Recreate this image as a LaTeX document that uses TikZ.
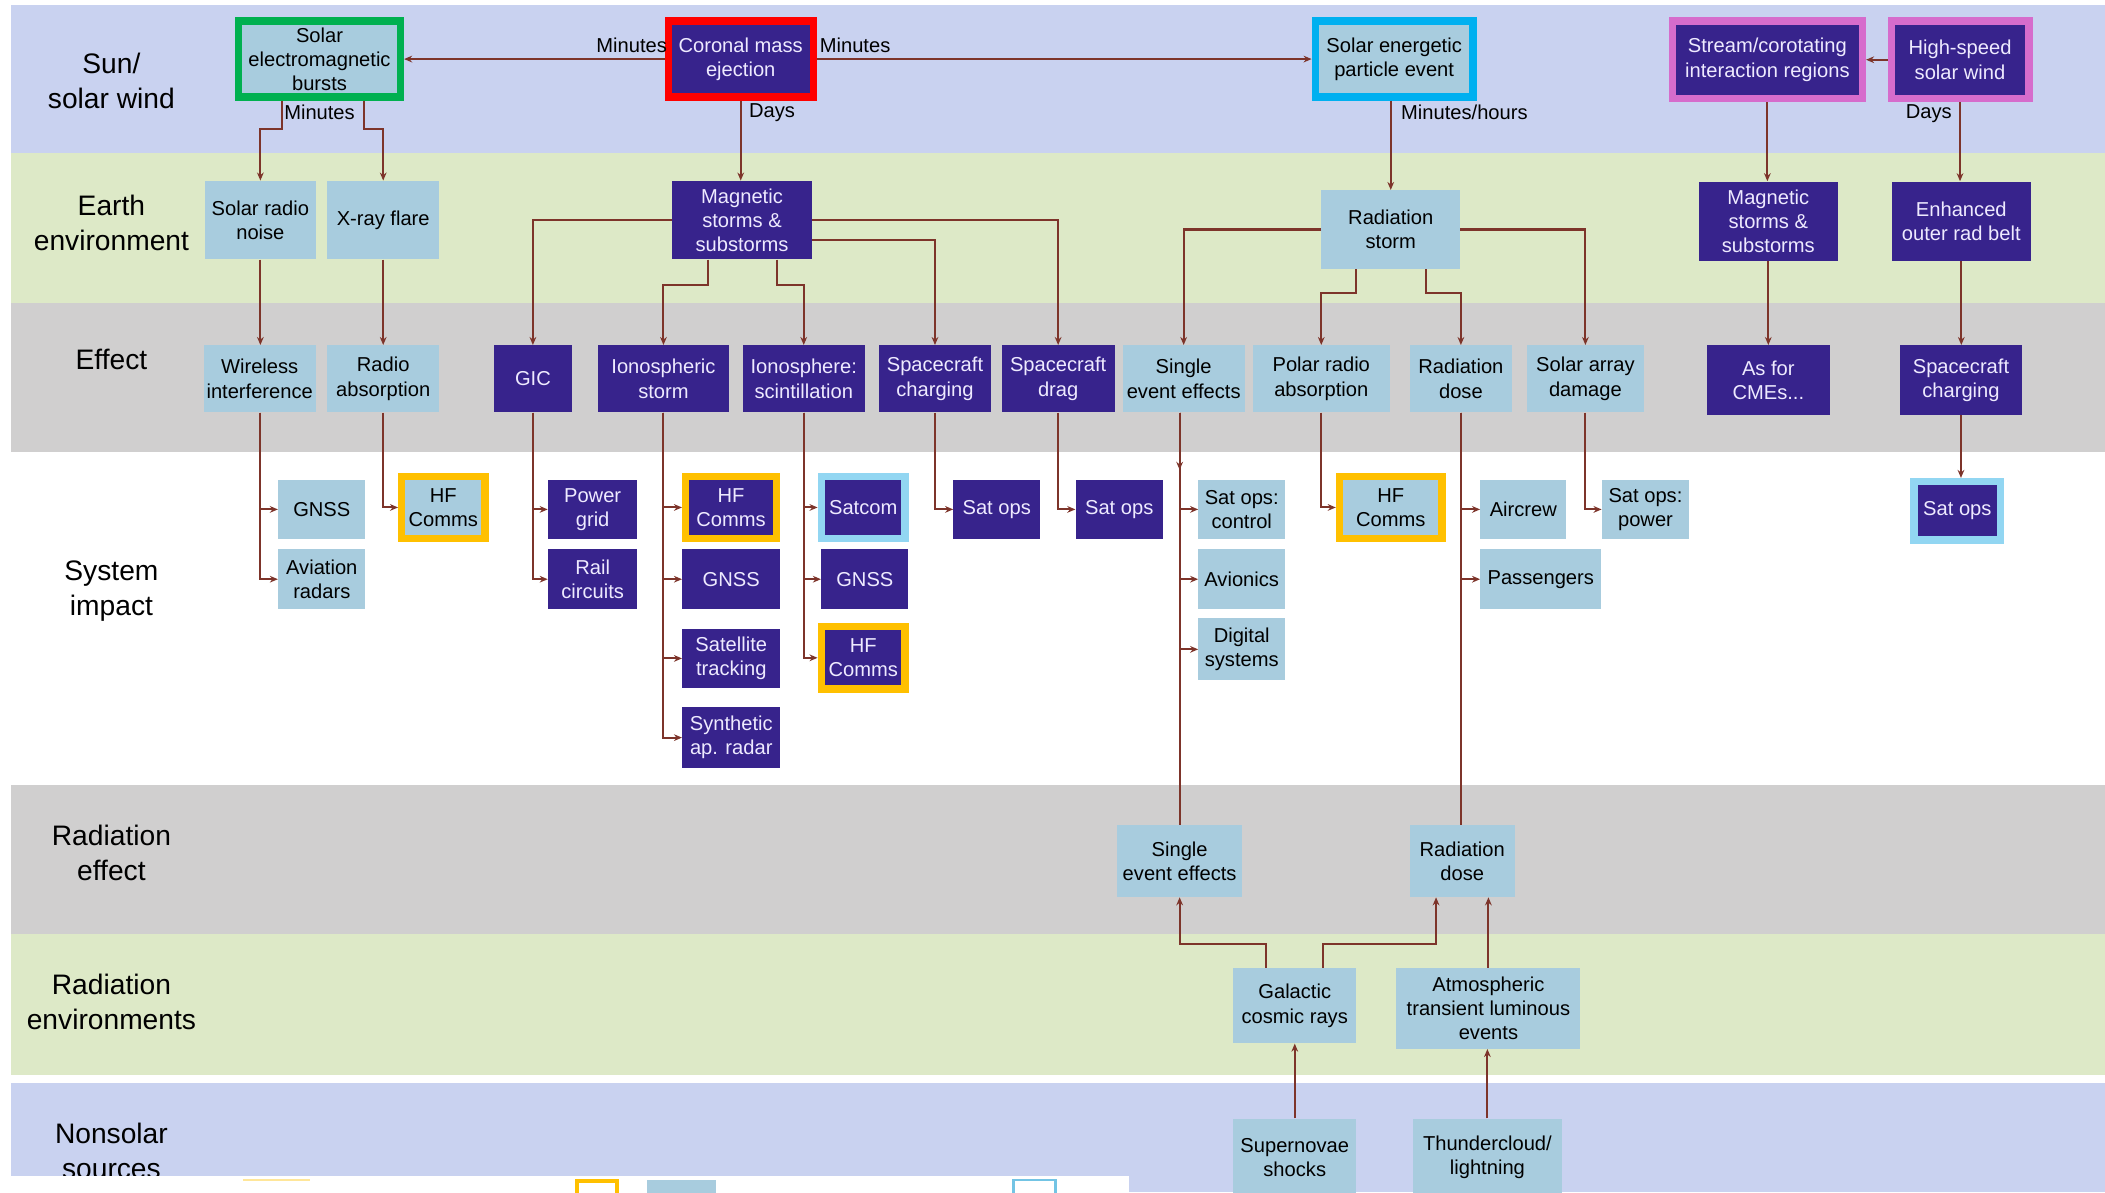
\documentclass[tikz,border=0pt]{standalone}
\usepackage{fontspec}
\setmainfont{Liberation Sans}
\usetikzlibrary{arrows.meta}

\definecolor{bandblue}{RGB}{201,210,240}
\definecolor{bandgreen}{RGB}{221,233,199}
\definecolor{bandgray}{RGB}{208,207,207}
\definecolor{lightbox}{RGB}{168,204,222}
\definecolor{darkbox}{RGB}{55,35,140}
\definecolor{darktext}{RGB}{238,234,255}
\definecolor{linecol}{RGB}{125,52,42}
\definecolor{rimgreen}{RGB}{0,176,80}
\definecolor{rimred}{RGB}{255,0,0}
\definecolor{rimcyan}{RGB}{0,176,240}
\definecolor{rimpink}{RGB}{214,108,204}
\definecolor{rimorange}{RGB}{255,192,0}
\definecolor{rimsky}{RGB}{146,214,242}

\newcommand{\bxfont}{\fontsize{15}{18}\selectfont}
\newcommand{\lbfont}{\fontsize{15}{18}\selectfont}
\newcommand{\bdfont}{\fontsize{21}{26}\selectfont}

\begin{document}
\begin{tikzpicture}[x=1pt, y=-1pt,
	bx/.style 2 args={anchor=north west, minimum width=#1pt, minimum height=#2pt,
		inner sep=0pt, align=center, font=\bxfont},
	lbox/.style={fill=lightbox, text=black},
	dbox/.style={fill=darkbox, text=darktext},
	rim/.style={draw=#1, line width=5.5pt},
	conn/.style={draw=linecol, line width=1.5pt},
	arr/.style={-{Stealth[length=6pt,width=5pt]}},
	lab/.style={font=\lbfont, inner sep=0pt},
	bandlab/.style={font=\bdfont, align=center, inner sep=0pt}]
	
	\clip (0,0) rectangle (1568,888);
	\fill[white] (0,0) rectangle (1568,888);
	
	% Background bands
	\foreach \ya/\yb/\col in {4/114/bandblue, 114/226/bandgreen, 226/337/bandgray,
		585/696/bandgray, 696/801/bandgreen, 807/888/bandblue}{
		\fill[\col] (8,\ya) rectangle (1568,\yb);
	}
	
	% Band labels
	\node[bandlab] (lsun) at (83,60) {Sun/\\solar wind};
	\node[bandlab] (learth) at (83,166) {Earth\\environment};
	\node[bandlab] (leffect) at (83,268) {Effect};
	\node[bandlab] (limpact) at (83,440) {System\\impact};
	\node[bandlab] (lradeff) at (83,635) {Radiation\\effect};
	\node[bandlab] (lradenv) at (83,746) {Radiation\\environments};
	\node[bandlab] (lnonsol) at (83,857) {Nonsolar\\sources};
	
	% Sun / solar wind
	\node[bx={120.5}{56.5}, lbox, rim=rimgreen] (seb) at (175,13) {Solar\\electromagnetic\\bursts};
	\node[bx={108}{56.5}, dbox, rim=rimred] (cme) at (495,13) {Coronal mass\\ejection};
	\node[bx={117.5}{56.5}, lbox, rim=rimcyan] (sep) at (977,13) {Solar energetic\\particle event};
	\node[bx={141.5}{57.5}, dbox, rim=rimpink] (sir) at (1243,13) {Stream/corotating\\interaction regions};
	\node[bx={102.5}{57.5}, dbox, rim=rimpink] (hss) at (1406,13) {High-speed\\solar wind};
	
	% Earth environment
	\node[bx={82.5}{58.5}, lbox] (srn) at (152.5,134.5) {Solar radio\\noise};
	\node[bx={83.5}{58.5}, lbox] (xrf) at (243.5,134.5) {X-ray flare};
	\node[bx={104}{58.5}, dbox] (mss) at (500.5,134.5) {Magnetic\\storms \&\\substorms};
	\node[bx={103.5}{58.5}, lbox] (rs) at (984,141.5) {Radiation\\storm};
	\node[bx={104}{59}, dbox] (mss2) at (1265,135) {Magnetic\\storms \&\\substorms};
	\node[bx={103.5}{59}, dbox] (eorb) at (1409,135) {Enhanced\\outer rad belt};
	
	% Effect
	\node[bx={83.5}{50}, lbox] (wi) at (151.5,257) {Wireless\\interference};
	\node[bx={83.5}{50}, lbox] (ra) at (243.5,257) {Radio\\absorption};
	\node[bx={58.5}{50}, dbox] (gic) at (367.5,257) {GIC};
	\node[bx={98}{50}, dbox] (ist) at (445,257) {Ionospheric\\storm};
	\node[bx={91}{50}, dbox] (isc) at (553,257) {Ionosphere:\\scintillation};
	\node[bx={83.5}{50}, dbox] (scc) at (654.5,257) {Spacecraft\\charging};
	\node[bx={84}{50}, dbox] (scd) at (746,257) {Spacecraft\\drag};
	\node[bx={91}{50}, lbox] (see) at (836,257) {Single\\event effects};
	\node[bx={102}{50}, lbox] (pra) at (933,257) {Polar radio\\absorption};
	\node[bx={76}{50}, lbox] (rd) at (1050,257) {Radiation\\dose};
	\node[bx={87.5}{50}, lbox] (sad) at (1137,257) {Solar array\\damage};
	\node[bx={92}{52}, dbox] (asc) at (1271,257) {As for\\CMEs...};
	\node[bx={91}{52}, dbox] (scc2) at (1415,257) {Spacecraft\\charging};
	
	% System impact
	\node[bx={65}{44.5}, lbox] (gnss1) at (207,357) {GNSS};
	\node[bx={65}{44.5}, lbox] (avr) at (207,409) {Aviation\\radars};
	\node[bx={62}{46.5}, lbox, rim=rimorange] (hf1) at (296.5,352) {HF\\Comms};
	\node[bx={66.5}{44.5}, dbox] (pgrid) at (408,357) {Power\\grid};
	\node[bx={66.5}{44.5}, dbox] (rail) at (408,409) {Rail\\circuits};
	\node[bx={67.5}{46.5}, dbox, rim=rimorange] (hf2) at (508,352) {HF\\Comms};
	\node[bx={73}{44.5}, dbox] (gnss2) at (508,409) {GNSS};
	\node[bx={73}{44.5}, dbox] (sattr) at (508,468) {Satellite\\tracking};
	\node[bx={73}{45.5}, dbox] (sar) at (508,526.5) {Synthetic\\ap. radar};
	\node[bx={62.5}{46.5}, dbox, rim=rimsky] (satcom) at (609,352) {Satcom};
	\node[bx={65}{44.5}, dbox] (gnss3) at (611.5,409) {GNSS};
	\node[bx={62.5}{46.5}, dbox, rim=rimorange] (hf3) at (609,464) {HF\\Comms};
	\node[bx={64.5}{44.5}, dbox] (satops1) at (710,357) {Sat ops};
	\node[bx={65}{44.5}, dbox] (satops2) at (801,357) {Sat ops};
	\node[bx={64.5}{44.5}, lbox] (ctrl) at (892.5,357) {Sat ops:\\control};
	\node[bx={64.5}{44.5}, lbox] (avion) at (892.5,409) {Avionics};
	\node[bx={64.5}{46}, lbox] (digi) at (892.5,460.5) {Digital\\systems};
	\node[bx={76.5}{46.5}, lbox, rim=rimorange] (hf4) at (995,352) {HF\\Comms};
	\node[bx={64}{44.5}, lbox] (aircrew) at (1102.5,357) {Aircrew};
	\node[bx={90}{44.5}, lbox] (pass) at (1102.5,409) {Passengers};
	\node[bx={65}{44.5}, lbox] (power) at (1193,357) {Sat ops:\\power};
	\node[bx={64.5}{43.5}, dbox, rim=rimsky] (satops4) at (1423,356) {Sat ops};
	
	% Radiation effect / environments / nonsolar sources
	\node[bx={93}{53.5}, lbox] (see2) at (832,614.5) {Single\\event effects};
	\node[bx={78}{53.5}, lbox] (rd2) at (1050,614.5) {Radiation\\dose};
	\node[bx={91.5}{56}, lbox] (gcr) at (918.5,721) {Galactic\\cosmic rays};
	\node[bx={137}{60}, lbox] (atle) at (1040,721) {Atmospheric\\transient luminous\\events};
	\node[bx={91.5}{58}, lbox] (sns) at (918.5,833) {Supernovae\\shocks};
	\node[bx={110.5}{58}, lbox] (thc) at (1052.5,833) {Thundercloud/\\lightning};
	
	% Connectors, top row
	\draw[conn,arr] (cme.west) -- (cme.west -| seb.east);
	\draw[conn,arr] (cme.east) -- (cme.east -| sep.west);
	\draw[conn,arr] (hss.west) -- (hss.west -| sir.east);
	\draw[conn,arr] ([xshift=-28pt]seb.south) -- ++(0,21) -| (srn.north);
	\draw[conn,arr] ([xshift=33pt]seb.south) -- ++(0,21) -| (xrf.north);
	\draw[conn,arr] (cme.south) -- (cme.south |- mss.north);
	\draw[conn,arr] (rs.north |- sep.south) -- (rs.north);
	\draw[conn,arr] (sir.south) -- (sir.south |- mss2.north);
	\draw[conn,arr] (hss.south) -- (hss.south |- eorb.north);
	
	\node[lab, anchor=east] (lmin1) at ([xshift=2pt,yshift=10pt]cme.west) {Minutes};
	\node[lab, anchor=west] (lmin2) at ([xshift=2pt,yshift=10pt]cme.east) {Minutes};
	\node[lab] (lmin3) at ([yshift=-9pt]seb.south) {Minutes};
	\node[lab, anchor=west] (ldays1) at ([xshift=6pt,yshift=-9pt]cme.south) {Days};
	\node[lab, anchor=west] (lminh) at ([xshift=5pt,yshift=-9pt]sep.south) {Minutes/hours};
	\node[lab, anchor=east] (ldays2) at ([xshift=-6pt,yshift=-9pt]hss.south) {Days};
	
	% Earth environment -> effect
	\draw[conn,arr] (srn.south) -- (srn.south |- wi.north);
	\draw[conn,arr] (xrf.south) -- (xrf.south |- ra.north);
	\draw[conn,arr] (mss.west) -| (gic.north);
	\draw[conn,arr] ([xshift=-25.5pt]mss.south) -- ++(0,19) -| (ist.north);
	\draw[conn,arr] ([xshift=26pt]mss.south) -- ++(0,19) -| (isc.north);
	\draw[conn,arr] ([yshift=-15pt]mss.east) -| (scc.north);
	\draw[conn,arr] (mss.east) -| (scd.north);
	\draw[conn,arr] (rs.west) -| (see.north);
	\draw[conn,arr] ([xshift=-26pt]rs.south) -- ++(0,18) -| (pra.north);
	\draw[conn,arr] ([xshift=26pt]rs.south) -- ++(0,18) -| (rd.north);
	\draw[conn,arr] (rs.east) -| (sad.north);
	\draw[conn,arr] (mss2.south) -- (mss2.south |- asc.north);
	\draw[conn,arr] (eorb.south) -- (eorb.south |- scc2.north);
	
	% Effect -> system impact
	\foreach \src/\dst in {wi/gnss1, wi/avr, ra/hf1, gic/pgrid, gic/rail,
		ist/hf2, ist/gnss2, ist/sattr, ist/sar, isc/satcom, isc/gnss3, isc/hf3,
		scc/satops1, scd/satops2, pra/hf4, rd/aircrew, rd/pass, sad/power}{
		\draw[conn,arr] (\src.south) |- (\dst.west);
	}
	\foreach \dst in {ctrl, avion, digi}{
		\draw[conn,arr] (see2.north |- see.south) |- (\dst.west);
	}
	\draw[conn,arr] (see2.north |- see.south) -- (see2.north |- 0,350);
	\draw[conn] (see2.north |- see.south) -- (see2.north);
	\draw[conn] (rd.south) -- (rd.south |- rd2.north);
	\draw[conn,arr] (scc2.south) -- (scc2.south |- satops4.north);
	
	% Nonsolar sources -> radiation effect
	\draw[conn,arr] ([xshift=-21.75pt]gcr.north) -- ++(0,-18) -| (see2.south);
	\draw[conn,arr] ([xshift=20.75pt]gcr.north) -- ++(0,-18) -| ([xshift=-19.5pt]rd2.south);
	\draw[conn,arr] (atle.north) -- (atle.north |- rd2.south);
	\draw[conn,arr] (sns.north) -- (sns.north |- gcr.south);
	\draw[conn,arr] (thc.north) -- (thc.north |- atle.south);
	
	% strip at the foot of the picture
	\fill[white] (0,876) rectangle (841,888);
	\draw[rimorange!40, line width=1pt] (181,879) -- (231,879);
	\draw[rimorange, line width=3pt] (429.5,879.5) rectangle (459.5,892);
	\fill[lightbox] (482,879) rectangle (533,890);
	\draw[cyan!70!teal!60, line width=2pt] (755,879) rectangle (786,892);
\end{tikzpicture}
\end{document}
